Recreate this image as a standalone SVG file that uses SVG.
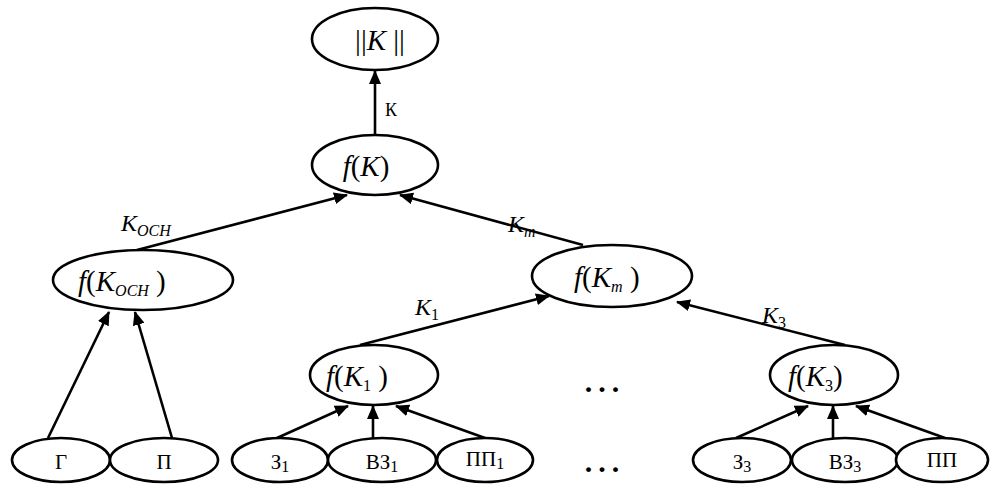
<svg xmlns="http://www.w3.org/2000/svg" width="990" height="485" viewBox="0 0 990 485">
<style>
.n{fill:#fff;stroke:#000;stroke-width:2.6}
.e{stroke:#000;stroke-width:2.6;fill:none;marker-end:url(#ah)}
text{font-family:"Liberation Serif","Times New Roman",serif;fill:#000}
.f{font-size:29px}
.i{font-style:italic}
.s{font-size:16px}
.u{font-style:normal}
.k{font-size:18px}
.b{font-size:21px}
.lb{font-size:24px}
.d{font-size:30px;font-weight:bold;letter-spacing:6px}
</style>
<defs>
<marker id="ah" markerUnits="userSpaceOnUse" markerWidth="14" markerHeight="12" viewBox="0 0 14 12" refX="13" refY="6" orient="auto">
<path d="M0,0 L14,6 L0,12 Z" fill="#000"/>
</marker>
</defs>
<rect width="990" height="485" fill="#fff"/>
<g id="connectors">
<line class="e" x1="375" y1="135" x2="375" y2="71"/>
<line class="e" x1="137" y1="250" x2="347" y2="195"/>
<line class="e" x1="583" y1="245" x2="400" y2="195"/>
<line class="e" x1="360" y1="345" x2="549" y2="296"/>
<line class="e" x1="845" y1="345" x2="677" y2="302"/>
<line class="e" x1="48" y1="438" x2="109" y2="312"/>
<line class="e" x1="172" y1="438" x2="135" y2="312"/>
<line class="e" x1="277" y1="438" x2="348" y2="406"/>
<line class="e" x1="373" y1="438" x2="373" y2="406"/>
<line class="e" x1="485" y1="438" x2="396" y2="406"/>
<line class="e" x1="736" y1="438" x2="808" y2="406"/>
<line class="e" x1="833" y1="438" x2="833" y2="406"/>
<line class="e" x1="945" y1="438" x2="856" y2="406"/>
</g>
<g id="labels">
<text x="385" y="116" class="k">К</text>
<text x="121" y="231" class="lb i">K<tspan class="s" dy="5">ОСН</tspan></text>
<text x="508" y="232" class="lb i">K<tspan class="s" dy="5">m</tspan></text>
<text x="415" y="315" class="lb i">K<tspan class="s u" dy="5">1</tspan></text>
<text x="762" y="323" class="lb i">K<tspan class="s u" dy="5">3</tspan></text>
<text x="605" y="392" class="d" text-anchor="middle">...</text>
<text x="605" y="472" class="d" text-anchor="middle">...</text>
</g>
<g id="nK">
<ellipse class="n" cx="375" cy="39" rx="63" ry="31"/>
<text x="380" y="50" class="f" text-anchor="middle">||<tspan class="i">K</tspan>  ||</text>
</g>
<g id="fK">
<ellipse class="n" cx="375" cy="165" rx="63" ry="30"/>
<text x="366" y="176" class="f" text-anchor="middle"><tspan class="i">f</tspan>(<tspan class="i">K</tspan>)</text>
</g>
<g id="fKoch">
<ellipse class="n" cx="143" cy="280" rx="90" ry="30"/>
<text x="78" y="291" class="f"><tspan class="i">f</tspan>(<tspan class="i">K</tspan><tspan class="i s" dy="5">ОСН</tspan><tspan dy="-5"> )</tspan></text>
</g>
<g id="fKm">
<ellipse class="n" cx="612" cy="276" rx="80" ry="31"/>
<text x="574" y="287" class="f"><tspan class="i">f</tspan>(<tspan class="i">K</tspan><tspan class="i s" dy="5">m</tspan><tspan dy="-5"> )</tspan></text>
</g>
<g id="fK1">
<ellipse class="n" cx="374" cy="375" rx="64" ry="30"/>
<text x="326" y="386" class="f"><tspan class="i">f</tspan>(<tspan class="i">K</tspan><tspan class="s" dy="5">1</tspan><tspan dy="-5"> )</tspan></text>
</g>
<g id="fK3">
<ellipse class="n" cx="834" cy="375" rx="64" ry="30"/>
<text x="788" y="386" class="f"><tspan class="i">f</tspan>(<tspan class="i">K</tspan><tspan class="s" dy="5">3</tspan><tspan dy="-5">)</tspan></text>
</g>
<g id="G">
<ellipse class="n" cx="61" cy="460" rx="49" ry="22"/>
<text x="61" y="469" class="b" text-anchor="middle">Г</text>
</g>
<g id="P">
<ellipse class="n" cx="164" cy="460" rx="54" ry="22"/>
<text x="164" y="469" class="b" text-anchor="middle">П</text>
</g>
<g id="Z1">
<ellipse class="n" cx="280" cy="460" rx="48" ry="22"/>
<text x="280" y="469" class="b" text-anchor="middle">З<tspan class="s" dy="3">1</tspan></text>
</g>
<g id="VZ1">
<ellipse class="n" cx="382" cy="460" rx="54" ry="22"/>
<text x="382" y="469" class="b" text-anchor="middle">ВЗ<tspan class="s" dy="3">1</tspan></text>
</g>
<g id="PP1">
<ellipse class="n" cx="485" cy="460" rx="48" ry="22"/>
<text x="485" y="466" class="b" text-anchor="middle">ПП<tspan class="s" dy="3">1</tspan></text>
</g>
<g id="Z3">
<ellipse class="n" cx="742" cy="460" rx="49" ry="22"/>
<text x="742" y="469" class="b" text-anchor="middle">З<tspan class="s" dy="3">3</tspan></text>
</g>
<g id="VZ3">
<ellipse class="n" cx="845" cy="460" rx="53" ry="22"/>
<text x="845" y="469" class="b" text-anchor="middle">ВЗ<tspan class="s" dy="3">3</tspan></text>
</g>
<g id="PP">
<ellipse class="n" cx="942" cy="460" rx="46" ry="22"/>
<text x="942" y="467" class="b" text-anchor="middle">ПП</text>
</g>
</svg>
